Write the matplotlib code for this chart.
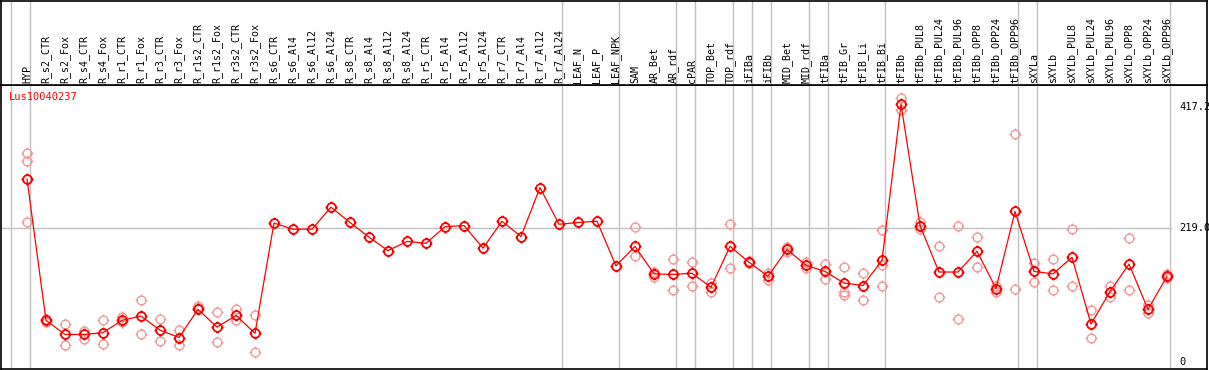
import matplotlib
matplotlib.use("Agg")
import matplotlib.pyplot as plt
from matplotlib.path import Path

categories = ["HYP", "R_s2_CTR", "R_s2_Fox", "R_s4_CTR", "R_s4_Fox", "R_r1_CTR", "R_r1_Fox",
              "R_r3_CTR", "R_r3_Fox", "R_r1s2_CTR", "R_r1s2_Fox", "R_r3s2_CTR", "R_r3s2_Fox",
              "R_s6_CTR", "R_s6_Al4", "R_s6_Al12", "R_s6_Al24", "R_s8_CTR", "R_s8_Al4",
              "R_s8_Al12", "R_s8_Al24", "R_r5_CTR", "R_r5_Al4", "R_r5_Al12", "R_r5_Al24",
              "R_r7_CTR", "R_r7_Al4", "R_r7_Al12", "R_r7_Al24", "LEAF_N", "LEAF_P", "LEAF_NPK",
              "SAM", "AR_Bet", "AR_rdf", "cPAR", "TOP_Bet", "TOP_rdf", "iFIBa", "iFIBb",
              "MID_Bet", "MID_rdf", "tFIBa", "tFIB_Gr", "tFIB_Li", "tFIB_Bi", "tFIBb",
              "tFIBb_PUL8", "tFIBb_PUL24", "tFIBb_PUL96", "tFIBb_OPP8", "tFIBb_OPP24",
              "tFIBb_OPP96", "sXYLa", "sXYLb", "sXYLb_PUL8", "sXYLb_PUL24", "sXYLb_PUL96",
              "sXYLb_OPP8", "sXYLb_OPP24", "sXYLb_OPP96"]

mean_values = [299, 68, 45, 45, 48, 68, 75, 52, 40, 86, 57, 76, 47,
               227, 217, 217, 253, 228, 204, 182, 197, 194, 221, 223, 186,
               230, 205, 285, 225, 228, 230, 157,
               189, 144, 143, 145, 122, 189, 163, 140, 184, 158, 148, 129, 125, 166,
               421, 223, 147, 147, 181, 120, 246, 148, 144, 171, 62, 115, 160, 86, 140]

replicates = [[341, 328, 228], [70, 66], [62, 28], [51, 38], [68, 30], [73, 65], [102, 45],
              [70, 34], [52, 27], [91, 88], [81, 32], [86, 68], [76, 17],
              [], [], [], [], [], [], [], [], [], [], [], [],
              [], [], [], [], [], [], [],
              [221, 173], [147, 139], [168, 117], [163, 125], [129, 115], [225, 153],
              [165, 161], [145, 134], [188, 180], [164, 154], [160, 136], [155, 115, 110],
              [145, 101], [216, 158, 125],
              [431, 412], [228, 218], [189, 106], [222, 71], [205, 156], [125, 115],
              [372, 120], [161, 130], [168, 118], [218, 125], [85, 39], [124, 106],
              [202, 117], [93, 80], [143, 137]]

group_ends = [-1, 0, 28, 31, 34, 35, 37, 38, 39, 41, 42, 45, 52, 53, 60]
y_ticks = [0, 219.0, 417.2]
y_tick_labels = ["0", "219.0", "417.2"]
gene = "Lus10040237"

W, H = 1209, 370
fig = plt.figure(figsize=(W / 100, H / 100), dpi=100)

def px_x(p):
    return (p - 27) / 19.0

def px_v(p):
    return (362 - p) / 0.612

x_left, x_right = px_x(1), px_x(1207)
ax = fig.add_axes([1 / W, 1 - 369 / H, 1206 / W, 284 / H])
hx = fig.add_axes([1 / W, 1 - 85 / H, 1206 / W, 84.5 / H], sharex=ax)

for a in (ax, hx):
    a.set_xlim(x_left, x_right)
    for s in a.spines.values():
        s.set_color("black")
        s.set_linewidth(1.2)
    a.set_xticks([])
    a.set_yticks([])
    for g in group_ends:
        a.axvline(g + 0.18, color="#c0c0c0", lw=1.0, zorder=0)

ax.set_ylim(px_v(369), px_v(85))
hx.set_ylim(0, 85)

# marker: circle with small ticks
circ = Path.circle((0, 0), 1.0)
ticks = [Path([(0, 1.0), (0, 1.35)], [Path.MOVETO, Path.LINETO]),
         Path([(0, -1.0), (0, -1.35)], [Path.MOVETO, Path.LINETO]),
         Path([(1.0, 0), (1.35, 0)], [Path.MOVETO, Path.LINETO]),
         Path([(-1.0, 0), (-1.35, 0)], [Path.MOVETO, Path.LINETO])]
mk = Path.make_compound_path(circ, *ticks)

ax.plot([x_left, px_x(1171)], [219.0, 219.0], color="#c0c0c0", lw=1.0, zorder=0)

xs = list(range(len(categories)))
rx, ry = [], []
for i, reps in enumerate(replicates):
    for r in reps:
        rx.append(i)
        ry.append(r)
ax.plot(rx, ry, ls="none", marker=mk, ms=8.5, mfc="none", mec="#f09a9a", mew=1.0, zorder=2)
ax.plot(xs, mean_values, color="#ff0000", lw=0.9, marker=mk, ms=8.5, mfc="none",
        mec="#ff0000", mew=1.3, zorder=3)

for t, lab in zip(y_ticks, y_tick_labels):
    ax.text(px_x(1179), t, lab, ha="left", va="center", family="DejaVu Sans Mono",
            fontsize=7.5, color="black")

ax.text(px_x(9), px_v(97), gene, ha="left", va="center", family="DejaVu Sans Mono",
        fontsize=7.5, color="#ff0000")

for i, c in enumerate(categories):
    hx.text(i, 85 - 83, c, rotation=90, ha="center", va="bottom",
            family="DejaVu Sans Mono", fontsize=7.2, color="black")

fig.savefig("out.png", dpi=100)
